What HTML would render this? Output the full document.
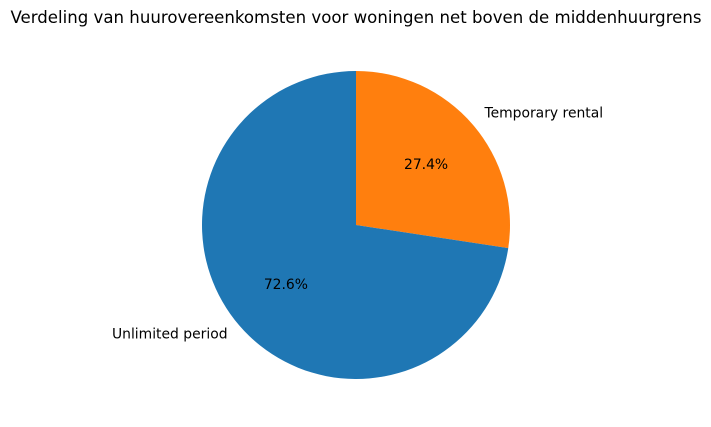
<!DOCTYPE html>
<html>
<head>
<meta charset="utf-8">
<style>
  html,body{margin:0;padding:0;background:#fff;}
  svg{display:block;font-family:"DejaVu Sans","Liberation Sans",sans-serif;}
</style>
</head>
<body>
<svg id="chart" width="711" height="427" viewBox="0 0 711 427">
  <rect width="711" height="427" fill="#fff"></rect>
  <text x="356" y="23" text-anchor="middle" font-size="16.6" fill="#000">Verdeling van huurovereenkomsten voor woningen net boven de middenhuurgrens</text>
  <g id="slices"></g>
</svg>
<script>
const categories = ["Temporary rental", "Unlimited period"];
const values = [27.4, 72.6];
const colors = ["#ff7f0e", "#1f77b4"];

const cx = 356, cy = 225, r = 154;
const svgNS = "http://www.w3.org/2000/svg";
const g = document.getElementById("slices");
const total = values.reduce((a, b) => a + b, 0);
function pt(angDeg, rad) {
  const a = angDeg * Math.PI / 180;
  return [cx + rad * Math.cos(a), cy - rad * Math.sin(a)];
}
let start = 90;
values.forEach((v, i) => {
  const sweep = v / total * 360;
  const end = start - sweep;
  const [x1, y1] = pt(start, r);
  const [x2, y2] = pt(end, r);
  const large = sweep > 180 ? 1 : 0;
  const path = document.createElementNS(svgNS, "path");
  path.setAttribute("d", `M${cx},${cy} L${x1},${y1} A${r},${r} 0 ${large} 1 ${x2},${y2} Z`);
  path.setAttribute("fill", colors[i]);
  
  
  g.appendChild(path);

  const mid = start - sweep / 2;
  const [px, py] = pt(mid, 0.6 * r);
  const pct = document.createElementNS(svgNS, "text");
  pct.setAttribute("x", px);
  pct.setAttribute("y", py + 4);
  pct.setAttribute("text-anchor", "middle");
  pct.setAttribute("font-size", "13.9");
  pct.textContent = (v / total * 100).toFixed(1) + "%";
  
  
  g.appendChild(pct);

  const [lx, ly] = pt(mid, 1.1 * r);
  const lab = document.createElementNS(svgNS, "text");
  lab.setAttribute("x", lx);
  lab.setAttribute("y", ly + 3);
  lab.setAttribute("text-anchor", lx >= cx ? "start" : "end");
  lab.setAttribute("font-size", "13.9");
  lab.textContent = categories[i];
  
  
  g.appendChild(lab);

  start = end;
});
</script>
</body>
</html>
